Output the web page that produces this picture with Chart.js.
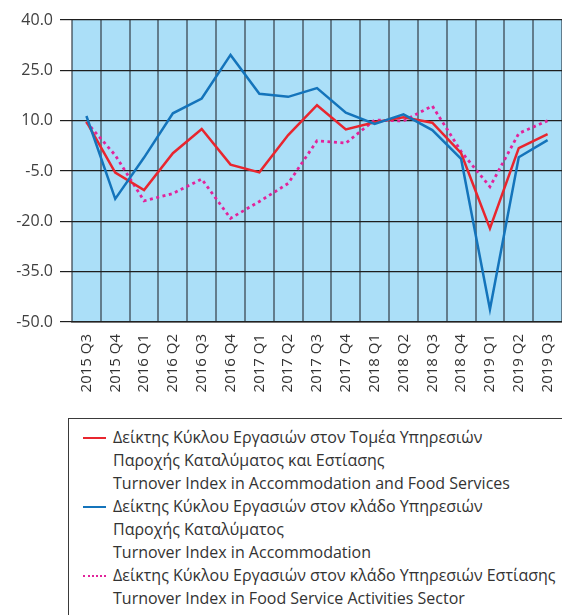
<!DOCTYPE html>
<html>
<head>
<meta charset="utf-8">
<script src="https://cdn.jsdelivr.net/npm/chart.js@4/dist/chart.umd.min.js"></script>
<style>
  html, body { margin: 0; padding: 0; background: #fff; overflow: hidden; }
  #wrap { position: relative; width: 562px; height: 615px; }
  #chartBox { position: absolute; left: 0; top: 0; width: 562px; height: 410px; }
  #legend {
    position: absolute; left: 68px; top: 418px; width: 520px; height: 220px;
    border: 1.5px solid #3a3a3a; box-sizing: border-box;
    font-family: "Open Sans", sans-serif; font-size: 16px; color: #333;
    padding-top: 7px; line-height: 23px; white-space: nowrap;
  }
  .item { position: relative; padding-left: 44px; }
  .sample { position: absolute; left: 14px; top: 11px; width: 23px; height: 0; }
</style>
</head>
<body>
<div id="wrap">
  <div id="chartBox"><canvas id="c" width="562" height="410"></canvas></div>
  <div id="legend"></div>
</div>
<script>
const categories = ["2015 Q3","2015 Q4","2016 Q1","2016 Q2","2016 Q3","2016 Q4","2017 Q1","2017 Q2","2017 Q3","2017 Q4","2018 Q1","2018 Q2","2018 Q3","2018 Q4","2019 Q1","2019 Q2","2019 Q3"];
const accommodationFood = [9.7, -5.5, -10.7, 0.3, 7.5, -3.1, -5.4, 5.7, 14.6, 7.4, 9.5, 11.0, 9.4, 0.3, -22.1, 1.8, 6.0];
const accommodation = [11.4, -13.3, -1.0, 12.2, 16.6, 29.6, 18.0, 17.1, 19.7, 12.4, 9.0, 11.9, 7.2, -1.4, -46.2, -0.9, 4.2];
const foodService = [9.6, -0.3, -13.9, -11.7, -7.4, -19.1, -14.1, -8.7, 4.0, 3.3, 10.2, 9.9, 14.4, 0.8, -9.7, 6.2, 10.0];
const yTicks = [40, 25, 10, -5, -20, -35, -50];
const legendLabels = [
  ["Δείκτης Κύκλου Εργασιών στον Τομέα Υπηρεσιών", "Παροχής Καταλύματος και Εστίασης", "Turnover Index in Accommodation and Food Services"],
  ["Δείκτης Κύκλου Εργασιών στον κλάδο Υπηρεσιών", "Παροχής Καταλύματος", "Turnover Index in Accommodation"],
  ["Δείκτης Κύκλου Εργασιών στον κλάδο Υπηρεσιών Εστίασης", "Turnover Index in Food Service Activities Sector"]
];

const RED = "#e8262f", BLUE = "#1474bb", PINK = "#e2239b";

const bgPlugin = {
  id: "bg",
  beforeDraw(chart) {
    const { ctx, chartArea: a } = chart;
    ctx.save();
    ctx.fillStyle = "#abdff8";
    ctx.fillRect(a.left, a.top, a.right - a.left, a.bottom - a.top);
    ctx.restore();
  }
};

new Chart(document.getElementById("c"), {
  type: "line",
  data: {
    labels: categories,
    datasets: [
      { label: legendLabels[0].join(" "), data: accommodationFood, borderColor: RED, borderWidth: 2.5, pointRadius: 0, tension: 0, order: 1 },
      { label: legendLabels[1].join(" "), data: accommodation, borderColor: BLUE, borderWidth: 2.5, pointRadius: 0, tension: 0, order: 0 },
      { label: legendLabels[2].join(" "), data: foodService, borderColor: PINK, borderWidth: 2.8, borderDash: [3, 3.5], borderCapStyle: "butt", pointRadius: 0, tension: 0, order: 2 }
    ]
  },
  options: {
    responsive: false,
    animation: false,
    layout: { padding: { top: 20, right: 0, left: 0, bottom: 0 } },
    plugins: { legend: { display: false }, tooltip: { enabled: false } },
    scales: {
      x: {
        offset: true,
        grid: { offset: true, color: "rgba(50,60,70,0.6)", lineWidth: 2, drawTicks: false },
        border: { color: "#222", width: 1.5 },
        ticks: { minRotation: 90, maxRotation: 90, autoSkip: false, padding: 12, color: "#333", font: { family: "Open Sans", size: 15 } },
        afterFit(s) { s.height = 88; s.paddingRight = 0; s.paddingLeft = 0; }
      },
      y: {
        min: -50, max: 40,
        afterBuildTicks(s) { s.ticks = yTicks.map(v => ({ value: v })); },
        grid: { color: "#1e1e1e", lineWidth: 1.2, tickLength: 12 },
        border: { display: false },
        ticks: { padding: 7, color: "#404040", font: { family: "Open Sans", size: 16 }, callback: v => Number(v).toFixed(1) },
        afterFit(s) { s.width = 72; s.paddingTop = 0; s.paddingBottom = 0; }
      }
    }
  },
  plugins: [bgPlugin]
});

// HTML legend built from the dataset styles
const legendEl = document.getElementById("legend");
const styles = [
  { color: RED, style: "solid", w: 2 },
  { color: BLUE, style: "solid", w: 2 },
  { color: PINK, style: "dotted", w: 2 }
];
legendLabels.forEach((lines, i) => {
  const item = document.createElement("div");
  item.className = "item";
  const s = document.createElement("div");
  s.className = "sample";
  s.style.borderTop = styles[i].w + "px " + styles[i].style + " " + styles[i].color;
  item.appendChild(s);
  lines.forEach(t => {
    const d = document.createElement("div");
    d.textContent = t;
    item.appendChild(d);
  });
  legendEl.appendChild(item);
});
</script>
</body>
</html>
